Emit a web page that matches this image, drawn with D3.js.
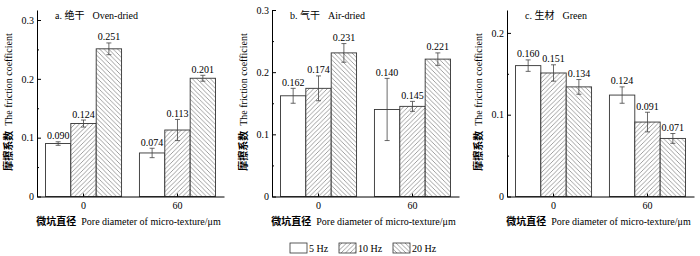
<!DOCTYPE html>
<html>
<head>
<meta charset="utf-8">
<script src="https://cdn.jsdelivr.net/npm/d3@7/dist/d3.min.js"></script>
<style>
  body { margin: 0; background: #fff; }
  svg text { font-family: "Liberation Serif", "Times New Roman", "DejaVu Serif", "Noto Sans CJK SC", serif; }
  .zh { font-family: "Noto Sans CJK SC", sans-serif; }
</style>
</head>
<body>
<div id="dataviz"></div>
<script>
// data
var groups = ["0", "60"];
var freqs = ["5 Hz", "10 Hz", "20 Hz"];
var panelLetters = ["a.", "b.", "c."];
var panelTitlesZh = ["绝干", "气干", "生材"];
var panelTitlesEn = ["Oven-dried", "Air-dried", "Green"];
var yMax = [0.317, 0.30, 0.228];
var yMajor = [[0, 0.1, 0.2, 0.3], [0, 0.1, 0.2, 0.3], [0, 0.1, 0.2]];
var yMinor = [[0.05, 0.15, 0.25], [0.05, 0.15, 0.25], [0.05, 0.15]];

var ovenDried = [[0.090, 0.124, 0.251], [0.074, 0.113, 0.201]];
var ovenDriedErr = [[0.003, 0.006, 0.010], [0.008, 0.018, 0.005]];
var airDried = [[0.162, 0.174, 0.231], [0.140, 0.145, 0.221]];
var airDriedErr = [[0.012, 0.020, 0.015], [0.050, 0.008, 0.010]];
var green = [[0.160, 0.151, 0.134], [0.124, 0.091, 0.071]];
var greenErr = [[0.007, 0.010, 0.009], [0.010, 0.012, 0.006]];

var values = [ovenDried, airDried, green];
var errors = [ovenDriedErr, airDriedErr, greenErr];

buildChart();

function buildChart(){
    var W = 700, H = 256;
    var plotTop = 10, plotBottom = 196.5, plotW = 187;

    var svg = d3.select("#dataviz")
    .append("svg")
        .attr("width", W)
        .attr("height", H);

    // hatch patterns
    var defs = svg.append("defs");
    function hatch(id, d){
        var p = defs.append("pattern")
            .attr("id", id)
            .attr("patternUnits", "userSpaceOnUse")
            .attr("width", 4.5)
            .attr("height", 4.5);
        p.append("rect").attr("width", 4.5).attr("height", 4.5).attr("fill", "#fff");
        p.append("path")
            .attr("d", d)
            .attr("stroke", "#777")
            .attr("stroke-width", 0.7)
            .attr("fill", "none");
    }
    hatch("fwd", "M-1,1 L1,-1 M0,4.5 L4.5,0 M3.5,5.5 L5.5,3.5");
    hatch("bwd", "M-1,3.5 L1,5.5 M0,0 L4.5,4.5 M3.5,-1 L5.5,1");
    var fills = ["#fff", "url(#fwd)", "url(#bwd)"];

    var fmt = d3.format(".3f");

    values.forEach(function(panel, i){
        var g = svg.append("g")
            .attr("transform", "translate(" + (37 + 235 * i) + ",0)");

        var x = d3.scaleBand()
            .domain(groups)
            .range([0, plotW])
            .paddingInner(0.19)
            .paddingOuter(0.09);

        var xSub = d3.scaleBand()
            .domain(freqs)
            .range([0, x.bandwidth()]);

        var y = d3.scaleLinear()
            .domain([0, yMax[i]])
            .range([plotBottom, plotTop]);

        // bars
        groups.forEach(function(grp, gi){
            freqs.forEach(function(f, fi){
                var v = panel[gi][fi];
                var e = errors[i][gi][fi];
                var bx = x(grp) + xSub(f);
                var cx = bx + xSub.bandwidth() / 2;
                g.append("rect")
                    .attr("x", bx)
                    .attr("y", y(v))
                    .attr("width", xSub.bandwidth())
                    .attr("height", y(0) - y(v))
                    .attr("fill", fills[fi])
                    .attr("stroke", "#333")
                    .style("stroke-width", "0.9px");

                // error bar
                var eb = g.append("g").attr("stroke", "#444").attr("stroke-width", 0.8);
                eb.append("line")
                    .attr("x1", cx).attr("x2", cx)
                    .attr("y1", y(v - e)).attr("y2", y(v + e));
                eb.append("line")
                    .attr("x1", cx - 2.5).attr("x2", cx + 2.5)
                    .attr("y1", y(v + e)).attr("y2", y(v + e));
                eb.append("line")
                    .attr("x1", cx - 2.5).attr("x2", cx + 2.5)
                    .attr("y1", y(v - e)).attr("y2", y(v - e));

                // value label
                g.append("text")
                    .attr("x", cx)
                    .attr("y", y(v + e) - 2.5)
                    .text(fmt(v))
                    .style("font-size", "10px")
                    .style("text-anchor", "middle");
            });
        });

        // y axis (ticks inside)
        g.append("g")
            .call(d3.axisLeft(y)
                .tickValues(yMajor[i])
                .tickSizeInner(-4)
                .tickSizeOuter(0)
                .tickPadding(3)
                .tickFormat(function(d){ return d === 0 ? "0" : d3.format(".1f")(d); }))
            .attr("font-family", null)
            .attr("font-size", null)
            .call(function(a){ a.selectAll("text").style("font-size", "10px"); });

        g.append("g")
            .call(d3.axisLeft(y)
                .tickValues(yMinor[i])
                .tickSizeInner(-2)
                .tickSizeOuter(0)
                .tickFormat(""))
            .call(function(a){ a.select(".domain").remove(); });

        // x axis
        g.append("g")
            .attr("transform", "translate(0," + plotBottom + ")")
            .call(d3.axisBottom(x)
                .tickSizeInner(-3)
                .tickSizeOuter(0)
                .tickPadding(5))
            .attr("font-family", null)
            .attr("font-size", null)
            .call(function(a){ a.selectAll("text").style("font-size", "10px"); });

        // panel title
        var t = g.append("text")
            .attr("x", 18)
            .attr("y", 19)
            .style("font-size", "10px");
        t.append("tspan").text(panelLetters[i] + " ");
        t.append("tspan").attr("class", "zh").text(panelTitlesZh[i]);
        t.append("tspan").attr("dx", 8).text(panelTitlesEn[i]);

        // x axis title
        var xt = g.append("text")
            .attr("x", plotW / 2 - 2)
            .attr("y", 225)
            .style("font-size", "10px")
            .style("text-anchor", "middle");
        xt.append("tspan").attr("class", "zh").style("font-weight", "bold").text("微坑直径");
        xt.append("tspan").attr("dx", 5).text("Pore diameter of micro-texture/μm");

        // y axis title
        var yt = g.append("text")
            .attr("transform", "translate(-25," + 102 + ") rotate(-90)")
            .style("font-size", "10px")
            .style("text-anchor", "middle");
        yt.append("tspan").attr("class", "zh").style("font-weight", "bold").text("摩擦系数");
        yt.append("tspan").attr("dx", 5).text("The friction coefficient");
    });

    // legend
    var legX = [290, 339, 393];
    var leg = svg.append("g");
    freqs.forEach(function(f, fi){
        leg.append("rect")
            .attr("x", legX[fi])
            .attr("y", 243)
            .attr("width", 17)
            .attr("height", 10)
            .attr("fill", fills[fi])
            .attr("stroke", "#333")
            .style("stroke-width", "0.8px");
        leg.append("text")
            .attr("x", legX[fi] + 19)
            .attr("y", 252)
            .text(f)
            .style("font-size", "10px");
    });
}
</script>
</body>
</html>
